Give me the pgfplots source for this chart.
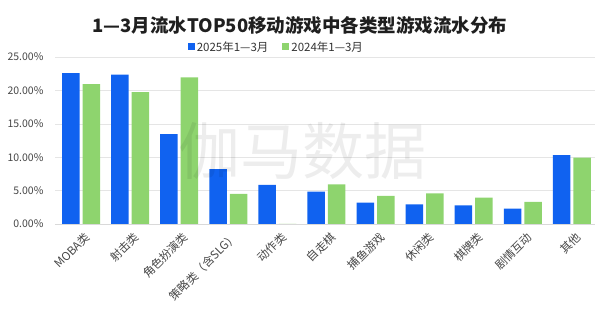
\documentclass[border=0pt]{standalone}
\usepackage{fontspec}
\setmainfont{Noto Sans CJK SC}
\usepackage{pgfplots}
\pgfplotsset{compat=1.18}
\definecolor{cblue}{RGB}{16,98,240}
\definecolor{cgreen}{RGB}{142,212,110}
\definecolor{lblgray}{RGB}{70,70,70}
\begin{document}
\begin{tikzpicture}
\begin{axis}[
  name=ax,
  scale only axis, width=540pt, height=167pt,
  xmin=-0.53, xmax=10.47, ymin=0, ymax=25,
  ybar=3pt, bar width=17.5pt,
  axis x line*=bottom, axis y line*=left,
  x axis line style={draw=black!15}, y axis line style={draw=none},
  ytick={0,5,10,15,20,25},
  ymajorgrids, grid style={draw=black!10},
  major tick length=0pt,
  xtick={0,...,10},
  xticklabels={MOBA类,射击类,角色扮演类,策略类（含SLG）,动作类,自走棋,捕鱼游戏,休闲类,棋牌类,剧情互动,其他},
  xticklabel style={yshift=-4pt, xshift=3pt, rotate=45, anchor=north east, font=\fontsize{11.5}{13}\selectfont, text=lblgray, inner sep=2pt},
  /pgf/number format/assume math mode=true,
  yticklabel={\pgfmathprintnumber[fixed,fixed zerofill,precision=2]{\tick}\%},
  yticklabel style={font=\fontsize{10.5}{12}\selectfont, text=lblgray, xshift=-8pt},
  legend style={at={(0.41,1.06)}, anchor=center, draw=none, fill=none, legend columns=2,
    font=\fontsize{11.5}{13}\selectfont, text=black!80,
    /tikz/every even column/.append style={column sep=12pt}},
  legend image code/.code={\fill[#1] (0pt,-3.5pt) rectangle (7pt,3.5pt);},
]
\addplot[fill=cblue, draw=none] coordinates {(0,22.6) (1,22.35) (2,13.45) (3,8.2) (4,5.85) (5,4.85) (6,3.2) (7,2.95) (8,2.8) (9,2.3) (10,10.3)};
\addplot[fill=cgreen, draw=none] coordinates {(0,20.95) (1,19.75) (2,21.95) (3,4.5) (4,0) (5,5.95) (6,4.2) (7,4.6) (8,3.95) (9,3.3) (10,9.95)};
\legend{2025年1—3月, 2024年1—3月}
\end{axis}
\begin{scope}[shift={(ax.south west)}, x=1pt, y=1pt]
\node[font=\bfseries\fontsize{18.5}{20}\selectfont, text=black!88] at (245,199) {1—3月流水TOP50移动游戏中各类型游戏流水分布};
\node[font=\fontsize{62}{64}\selectfont, text=black, opacity=0.07] at (247,73) {伽马数据};
\pgfresetboundingbox
\useasboundingbox (-55,-102) rectangle (545,224);
\end{scope}
\end{tikzpicture}
\end{document}
